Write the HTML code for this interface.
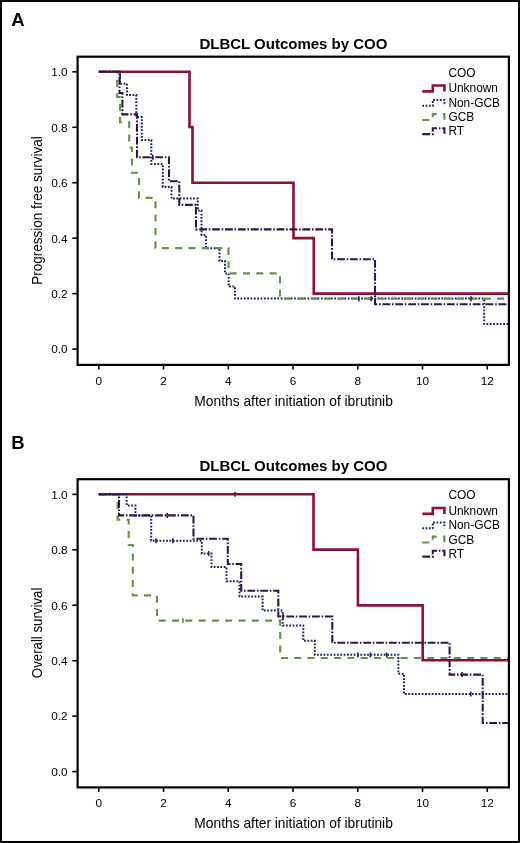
<!DOCTYPE html>
<html><head><meta charset="utf-8"><title>DLBCL Outcomes by COO</title>
<style>html,body{margin:0;padding:0;background:#fff;}body{width:520px;height:843px;overflow:hidden;font-family:"Liberation Sans",sans-serif;}svg{display:block;filter:blur(0.35px);}</style>
</head><body>
<svg width="520" height="843" viewBox="0 0 520 843" font-family='&quot;Liberation Sans&quot;, sans-serif' fill="#000">
<defs><clipPath id="clipA"><rect x="77.60" y="56.70" width="431.30" height="308.20"/></clipPath><clipPath id="clipB"><rect x="77.60" y="479.20" width="431.30" height="308.20"/></clipPath></defs>
<rect x="0" y="0" width="520" height="843" fill="#fff"/>
<text x="11.3" y="26.0" font-size="18.5" font-weight="bold">A</text>
<text x="293.4" y="48.6" font-size="15.3" font-weight="bold" text-anchor="middle" textLength="188" lengthAdjust="spacingAndGlyphs">DLBCL Outcomes by COO</text>
<g clip-path="url(#clipA)">
<path d="M98.8 71.8 H189.5 V127 H192.5 V182.7 H293.5 V238.1 H313.75 V293.6 H508.9" fill="none" stroke="#900f35" stroke-width="2.6"/>
<path d="M98.8 71.8 H120 V83.8 H127 V95 H136.3 V117 H141.8 V140 H151.3 V164 H162.8 V187 H171.5 V198.6 H197.8 V210.5 H201.5 V235 H206 V248.3 H219.5 V261 H225 V273.5 H228.7 V286.5 H235 V298.6 H484.2 V324 H508.9" fill="none" stroke="#1e245e" stroke-width="2.0" stroke-dasharray="1.8 1.55"/>
<path d="M98.8 71.8 H117.2 V97 H120 V122.3 H129.2 V147.5 H131.9 V172.7 H139 V197.9 H155.5 V248.1 H228.5 V273.4 H280 V298.6 H508.9" fill="none" stroke="#66914a" stroke-width="2.1" stroke-dasharray="7 6.3"/>
<path d="M98.8 71.8 H119.5 V93 H122.4 V114.4 H137 V157.2 H169 V181.2 H179.3 V204.9 H196 V229.4 H332 V259.2 H375 V304.2 H508.9" fill="none" stroke="#2e164a" stroke-width="2.1" stroke-dasharray="7.8 1.75 1.6 1.75"/>
<line x1="152.7" y1="154.7" x2="152.7" y2="159.7" stroke="#2e164a" stroke-width="1.6"/>
<line x1="358.8" y1="296.2" x2="358.8" y2="301.2" stroke="#1e245e" stroke-width="1.6"/>
<line x1="371.2" y1="296.2" x2="371.2" y2="301.2" stroke="#1e245e" stroke-width="1.6"/>
<line x1="471.0" y1="296.2" x2="471.0" y2="301.2" stroke="#1e245e" stroke-width="1.6"/>
<line x1="120.0" y1="73.5" x2="120.0" y2="78.5" stroke="#1e245e" stroke-width="1.6"/>
</g>
<rect x="77.60" y="56.70" width="431.30" height="308.20" fill="none" stroke="#000" stroke-width="2.2"/>
<line x1="72.3" y1="349.10" x2="77.60" y2="349.10" stroke="#000" stroke-width="1.6"/>
<text x="67.6" y="353.40" font-size="11.8" text-anchor="end">0.0</text>
<line x1="72.3" y1="293.65" x2="77.60" y2="293.65" stroke="#000" stroke-width="1.6"/>
<text x="67.6" y="297.95" font-size="11.8" text-anchor="end">0.2</text>
<line x1="72.3" y1="238.20" x2="77.60" y2="238.20" stroke="#000" stroke-width="1.6"/>
<text x="67.6" y="242.50" font-size="11.8" text-anchor="end">0.4</text>
<line x1="72.3" y1="182.75" x2="77.60" y2="182.75" stroke="#000" stroke-width="1.6"/>
<text x="67.6" y="187.05" font-size="11.8" text-anchor="end">0.6</text>
<line x1="72.3" y1="127.30" x2="77.60" y2="127.30" stroke="#000" stroke-width="1.6"/>
<text x="67.6" y="131.60" font-size="11.8" text-anchor="end">0.8</text>
<line x1="72.3" y1="71.85" x2="77.60" y2="71.85" stroke="#000" stroke-width="1.6"/>
<text x="67.6" y="76.15" font-size="11.8" text-anchor="end">1.0</text>
<line x1="98.80" y1="364.90" x2="98.80" y2="369.50" stroke="#000" stroke-width="1.6"/>
<text x="98.80" y="384.60" font-size="11.8" text-anchor="middle">0</text>
<line x1="163.54" y1="364.90" x2="163.54" y2="369.50" stroke="#000" stroke-width="1.6"/>
<text x="163.54" y="384.60" font-size="11.8" text-anchor="middle">2</text>
<line x1="228.28" y1="364.90" x2="228.28" y2="369.50" stroke="#000" stroke-width="1.6"/>
<text x="228.28" y="384.60" font-size="11.8" text-anchor="middle">4</text>
<line x1="293.02" y1="364.90" x2="293.02" y2="369.50" stroke="#000" stroke-width="1.6"/>
<text x="293.02" y="384.60" font-size="11.8" text-anchor="middle">6</text>
<line x1="357.76" y1="364.90" x2="357.76" y2="369.50" stroke="#000" stroke-width="1.6"/>
<text x="357.76" y="384.60" font-size="11.8" text-anchor="middle">8</text>
<line x1="422.50" y1="364.90" x2="422.50" y2="369.50" stroke="#000" stroke-width="1.6"/>
<text x="422.50" y="384.60" font-size="11.8" text-anchor="middle">10</text>
<line x1="487.24" y1="364.90" x2="487.24" y2="369.50" stroke="#000" stroke-width="1.6"/>
<text x="487.24" y="384.60" font-size="11.8" text-anchor="middle">12</text>
<text x="293.6" y="405.9" font-size="14.5" text-anchor="middle" textLength="198.5" lengthAdjust="spacingAndGlyphs">Months after initiation of ibrutinib</text>
<text transform="translate(42.4 210.40) rotate(-90)" x="0" y="0" font-size="14.8" text-anchor="middle" textLength="148.5" lengthAdjust="spacingAndGlyphs">Progression free survival</text>
<text x="448.4" y="76.50" font-size="11.9">COO</text>
<text x="448.4" y="92.40" font-size="11.9">Unknown</text>
<path d="M422.3 91.40 H432.8 V85.50 H444.4 V91.40" fill="none" stroke="#900f35" stroke-width="2.6"/>
<text x="448.4" y="106.80" font-size="11.9">Non-GCB</text>
<path d="M422.3 105.80 H432.8 V99.90 H444.4 V105.80" fill="none" stroke="#1e245e" stroke-width="2.0" stroke-dasharray="1.8 1.55"/>
<text x="448.4" y="121.00" font-size="11.9">GCB</text>
<path d="M422.3 120.00 H432.8 V114.10 H444.4 V120.00" fill="none" stroke="#66914a" stroke-width="2.1" stroke-dasharray="7 6.3"/>
<text x="448.4" y="135.10" font-size="11.9">RT</text>
<path d="M422.3 134.10 H432.8 V128.20 H444.4 V134.10" fill="none" stroke="#2e164a" stroke-width="2.1" stroke-dasharray="7.8 1.75 1.6 1.75"/>
<text x="11.3" y="448.5" font-size="18.5" font-weight="bold">B</text>
<text x="293.4" y="471.1" font-size="15.3" font-weight="bold" text-anchor="middle" textLength="188" lengthAdjust="spacingAndGlyphs">DLBCL Outcomes by COO</text>
<g clip-path="url(#clipB)">
<path d="M98.8 494.3 H313.5 V549.6 H357.9 V605.4 H422.7 V660.3 H508.9" fill="none" stroke="#900f35" stroke-width="2.6"/>
<path d="M98.8 494.3 H126.7 V505.5 H135.4 V515.4 H151.2 V540.8 H201.8 V553.5 H211.5 V567 H226.5 V581.2 H239.5 V596.5 H262.6 V610.6 H282.7 V625.4 H303.3 V640.8 H314.8 V654.8 H398.3 V673.8 H404 V694 H508.9" fill="none" stroke="#1e245e" stroke-width="2.0" stroke-dasharray="1.8 1.55"/>
<path d="M98.8 494.3 H117.6 V519.7 H128.7 V545 H132.8 V595.4 H157 V620.6 H280.2 V658 H508.9" fill="none" stroke="#66914a" stroke-width="2.1" stroke-dasharray="7 6.3"/>
<path d="M98.8 494.3 H119 V515.4 H193.5 V538.7 H227.8 V564 H241.2 V590.8 H278.3 V616.5 H332.3 V642.7 H449.6 V674.6 H482.7 V723 H508.9" fill="none" stroke="#2e164a" stroke-width="2.1" stroke-dasharray="7.8 1.75 1.6 1.75"/>
<line x1="235.0" y1="491.8" x2="235.0" y2="496.8" stroke="#900f35" stroke-width="1.6"/>
<line x1="167.1" y1="512.9" x2="167.1" y2="517.9" stroke="#2e164a" stroke-width="1.6"/>
<line x1="462.0" y1="672.1" x2="462.0" y2="677.1" stroke="#2e164a" stroke-width="1.6"/>
<line x1="283.0" y1="614.0" x2="283.0" y2="619.0" stroke="#2e164a" stroke-width="1.6"/>
<line x1="183.0" y1="618.1" x2="183.0" y2="623.1" stroke="#66914a" stroke-width="1.6"/>
<line x1="156.0" y1="538.3" x2="156.0" y2="543.3" stroke="#1e245e" stroke-width="1.6"/>
<line x1="172.9" y1="538.3" x2="172.9" y2="543.3" stroke="#1e245e" stroke-width="1.6"/>
<line x1="208.7" y1="551.0" x2="208.7" y2="556.0" stroke="#1e245e" stroke-width="1.6"/>
<line x1="357.9" y1="652.5" x2="357.9" y2="657.5" stroke="#1e245e" stroke-width="1.6"/>
<line x1="370.4" y1="652.5" x2="370.4" y2="657.5" stroke="#1e245e" stroke-width="1.6"/>
<line x1="386.7" y1="652.5" x2="386.7" y2="657.5" stroke="#1e245e" stroke-width="1.6"/>
<line x1="470.8" y1="691.5" x2="470.8" y2="696.5" stroke="#1e245e" stroke-width="1.6"/>
</g>
<rect x="77.60" y="479.20" width="431.30" height="308.20" fill="none" stroke="#000" stroke-width="2.2"/>
<line x1="72.3" y1="771.60" x2="77.60" y2="771.60" stroke="#000" stroke-width="1.6"/>
<text x="67.6" y="775.90" font-size="11.8" text-anchor="end">0.0</text>
<line x1="72.3" y1="716.15" x2="77.60" y2="716.15" stroke="#000" stroke-width="1.6"/>
<text x="67.6" y="720.45" font-size="11.8" text-anchor="end">0.2</text>
<line x1="72.3" y1="660.70" x2="77.60" y2="660.70" stroke="#000" stroke-width="1.6"/>
<text x="67.6" y="665.00" font-size="11.8" text-anchor="end">0.4</text>
<line x1="72.3" y1="605.25" x2="77.60" y2="605.25" stroke="#000" stroke-width="1.6"/>
<text x="67.6" y="609.55" font-size="11.8" text-anchor="end">0.6</text>
<line x1="72.3" y1="549.80" x2="77.60" y2="549.80" stroke="#000" stroke-width="1.6"/>
<text x="67.6" y="554.10" font-size="11.8" text-anchor="end">0.8</text>
<line x1="72.3" y1="494.35" x2="77.60" y2="494.35" stroke="#000" stroke-width="1.6"/>
<text x="67.6" y="498.65" font-size="11.8" text-anchor="end">1.0</text>
<line x1="98.80" y1="787.40" x2="98.80" y2="792.00" stroke="#000" stroke-width="1.6"/>
<text x="98.80" y="807.10" font-size="11.8" text-anchor="middle">0</text>
<line x1="163.54" y1="787.40" x2="163.54" y2="792.00" stroke="#000" stroke-width="1.6"/>
<text x="163.54" y="807.10" font-size="11.8" text-anchor="middle">2</text>
<line x1="228.28" y1="787.40" x2="228.28" y2="792.00" stroke="#000" stroke-width="1.6"/>
<text x="228.28" y="807.10" font-size="11.8" text-anchor="middle">4</text>
<line x1="293.02" y1="787.40" x2="293.02" y2="792.00" stroke="#000" stroke-width="1.6"/>
<text x="293.02" y="807.10" font-size="11.8" text-anchor="middle">6</text>
<line x1="357.76" y1="787.40" x2="357.76" y2="792.00" stroke="#000" stroke-width="1.6"/>
<text x="357.76" y="807.10" font-size="11.8" text-anchor="middle">8</text>
<line x1="422.50" y1="787.40" x2="422.50" y2="792.00" stroke="#000" stroke-width="1.6"/>
<text x="422.50" y="807.10" font-size="11.8" text-anchor="middle">10</text>
<line x1="487.24" y1="787.40" x2="487.24" y2="792.00" stroke="#000" stroke-width="1.6"/>
<text x="487.24" y="807.10" font-size="11.8" text-anchor="middle">12</text>
<text x="293.6" y="828.4" font-size="14.5" text-anchor="middle" textLength="198.5" lengthAdjust="spacingAndGlyphs">Months after initiation of ibrutinib</text>
<text transform="translate(42.4 632.90) rotate(-90)" x="0" y="0" font-size="14.8" text-anchor="middle" textLength="90.5" lengthAdjust="spacingAndGlyphs">Overall survival</text>
<text x="448.4" y="499.00" font-size="11.9">COO</text>
<text x="448.4" y="514.90" font-size="11.9">Unknown</text>
<path d="M422.3 513.90 H432.8 V508.00 H444.4 V513.90" fill="none" stroke="#900f35" stroke-width="2.6"/>
<text x="448.4" y="529.30" font-size="11.9">Non-GCB</text>
<path d="M422.3 528.30 H432.8 V522.40 H444.4 V528.30" fill="none" stroke="#1e245e" stroke-width="2.0" stroke-dasharray="1.8 1.55"/>
<text x="448.4" y="543.50" font-size="11.9">GCB</text>
<path d="M422.3 542.50 H432.8 V536.60 H444.4 V542.50" fill="none" stroke="#66914a" stroke-width="2.1" stroke-dasharray="7 6.3"/>
<text x="448.4" y="557.60" font-size="11.9">RT</text>
<path d="M422.3 556.60 H432.8 V550.70 H444.4 V556.60" fill="none" stroke="#2e164a" stroke-width="2.1" stroke-dasharray="7.8 1.75 1.6 1.75"/>
<rect x="1" y="1" width="518" height="841" fill="none" stroke="#000" stroke-width="2"/>
</svg>
</body></html>
